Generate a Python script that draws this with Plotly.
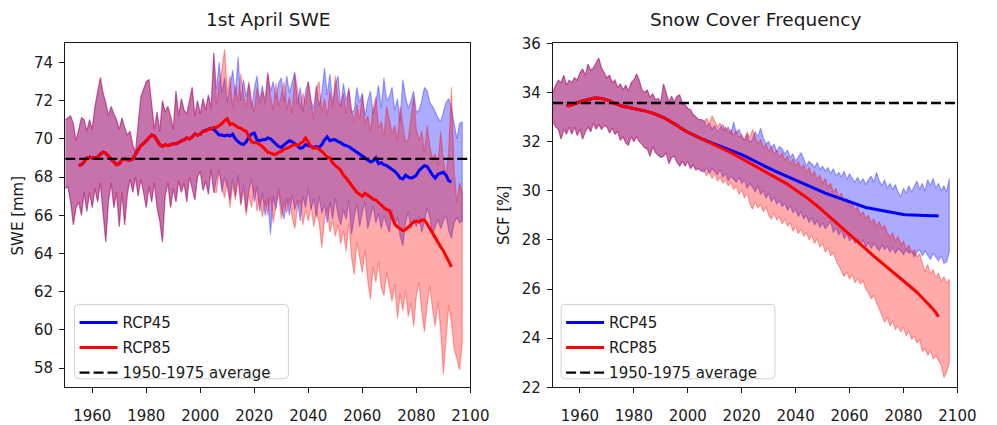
import plotly.graph_objects as go

# ---------------------------------------------------------------- years
YEARS_HIST = list(range(1950, 2006))       # historical ensemble
YEARS_RCP = list(range(2006, 2098))        # scenario ensembles
YEARS_MEAN_HIST = list(range(1955, 2001))  # running mean, shared part
YEARS_MEAN_RCP = list(range(2001, 2094))   # running mean, scenario part

# ---------------------------------------------------------------- 1st April SWE [mm]
swe_hist_hi = [71.0, 71.1, 71.2, 70.8, 69.9, 70.5, 71.1, 71.0, 70.4, 71.0,
               70.5, 71.7, 72.5, 73.2, 72.4, 71.9, 71.2, 71.7, 71.3, 71.0,
               70.5, 71.1, 70.6, 70.2, 70.4, 69.7, 69.3, 70.6, 72.2, 72.6,
               73.0, 73.1, 71.8, 70.5, 71.4, 70.4, 72.0, 71.4, 71.7, 71.2,
               70.5, 72.5, 71.2, 72.1, 71.5, 71.3, 72.0, 72.7, 71.2, 72.0,
               71.3, 72.1, 71.5, 72.3, 71.6, 74.5]
swe_hist_lo = [67.4, 67.5, 66.7, 65.5, 66.4, 66.7, 66.0, 67.2, 66.2, 67.2,
               66.4, 67.4, 66.7, 67.7, 66.0, 64.6, 66.7, 67.7, 66.4, 67.2,
               65.4, 67.2, 65.5, 67.1, 67.9, 67.2, 68.0, 67.0, 67.9, 67.2,
               66.4, 67.5, 66.7, 67.7, 66.4, 65.7, 64.6, 67.0, 67.7, 66.4,
               67.4, 66.7, 67.8, 67.2, 67.7, 66.7, 68.0, 67.4, 66.8, 68.0,
               68.3, 67.3, 67.8, 67.1, 68.4, 67.2]
swe_r45_hi = [72.6, 74.0, 72.4, 73.2, 71.9, 72.8, 73.6, 72.3, 74.3, 72.0,
              73.1, 72.2, 72.9, 71.6, 72.6, 73.3, 72.0, 72.8, 71.8, 73.4,
              72.5, 73.0, 72.1, 72.9, 73.2, 71.9, 73.3, 72.4, 72.9, 73.5,
              71.8, 72.7, 71.4, 72.5, 73.0, 72.0, 71.6, 72.8, 71.7, 72.4,
              73.7, 72.3, 73.4, 71.9, 72.8, 73.3, 71.7, 72.9, 72.0, 72.6,
              71.4, 71.5, 72.7, 71.9, 72.4, 71.2, 72.0, 72.5, 71.3, 71.9,
              72.8, 71.6, 73.2, 72.0, 72.2, 72.7, 71.5, 72.1, 70.9, 73.1,
              72.2, 71.6, 72.0, 72.5, 71.4, 71.5, 72.0, 72.7, 72.5, 71.9,
              71.7, 71.4, 71.1, 70.9, 71.4, 71.9, 72.1, 71.6, 70.8, 70.0,
              70.8, 70.9]
swe_r45_lo = [67.9, 68.4, 67.2, 68.0, 67.5, 66.8, 67.9, 67.0, 68.1, 66.6,
              67.6, 66.2, 67.3, 67.9, 66.7, 67.5, 66.2, 67.2, 66.0, 66.9,
              65.0, 67.0, 66.3, 67.4, 66.4, 65.8, 66.9, 66.0, 67.1, 66.3,
              66.8, 65.7, 67.0, 66.4, 67.4, 66.3, 66.9, 65.9, 67.0, 66.1,
              66.6, 65.6, 66.7, 65.8, 66.9, 66.0, 65.5, 66.3, 65.8, 66.8,
              65.0, 65.9, 66.6, 65.4, 66.2, 66.7, 65.3, 65.9, 66.5, 65.6,
              66.1, 65.3, 66.0, 65.5, 65.1, 66.3, 65.4, 65.9, 64.9, 64.4,
              65.6, 66.2, 65.3, 65.8, 65.4, 66.0, 65.1, 65.7, 66.4, 65.9,
              65.0, 65.4, 65.8, 65.3, 65.7, 66.0, 65.2, 64.8, 65.6, 65.9,
              65.6, 65.7]
swe_r85_hi = [71.8, 72.9, 73.6, 74.7, 72.4, 73.3, 71.6, 72.8, 71.9, 73.4,
              72.3, 71.7, 73.0, 72.0, 71.4, 72.7, 71.8, 72.5, 72.1, 73.5,
              72.2, 71.5, 72.9, 71.7, 72.3, 73.0, 71.5, 72.2, 71.3, 73.4,
              72.6, 71.6, 72.4, 71.8, 73.0, 71.9, 71.0, 72.6, 73.0, 71.4,
              72.1, 71.2, 72.5, 71.6, 73.3, 72.0, 71.7, 72.4, 71.3, 72.7,
              71.5, 70.9, 71.8, 71.0, 72.3, 70.8, 71.2, 70.4, 71.6, 72.2,
              70.6, 70.9, 70.1, 71.7, 70.9, 70.3, 70.7, 69.9, 71.7, 70.6,
              69.8, 70.0, 71.1, 72.2, 70.5, 69.9, 70.4, 69.3, 70.7, 69.6,
              69.0, 69.2, 68.6, 70.4, 68.9, 68.0, 69.4, 72.7, 68.3, 66.7,
              67.7, 67.2]
swe_r85_lo = [67.2, 68.3, 67.5, 66.9, 67.8, 66.4, 67.6, 66.8, 67.9, 66.5,
              67.3, 66.0, 67.1, 66.4, 67.5, 66.2, 66.9, 65.9, 66.8, 66.0,
              67.0, 65.6, 66.5, 67.1, 65.8, 66.7, 66.1, 66.9, 65.9, 65.3,
              66.4, 66.8, 65.5, 66.3, 65.7, 66.5, 65.4, 66.2, 65.6, 64.3,
              65.8, 66.4, 65.1, 65.7, 64.9, 65.5, 64.5, 65.2, 64.1, 65.6,
              63.8, 62.9, 64.6, 63.9, 63.0, 64.2, 62.6, 61.6, 63.3, 62.5,
              63.6, 62.2, 61.8, 63.0, 62.3, 61.5, 62.4, 60.6, 61.9, 61.0,
              62.1, 60.7, 61.4, 60.2, 61.8, 62.5, 61.0, 59.9, 61.3, 62.3,
              61.1, 60.2, 61.5, 60.0, 57.7, 59.5, 61.3, 60.4, 59.0, 58.5,
              57.9, 59.3]
swe_mean_hist = [68.6, 68.65, 68.8, 69.0, 69.05, 69.0, 69.0, 69.05, 69.2, 69.3,
                 69.25, 69.1, 68.9, 68.8, 68.65, 68.7, 68.9, 68.95, 68.9, 68.9,
                 68.95, 69.2, 69.4, 69.65, 69.75, 69.9, 70.1, 70.2, 70.15, 69.9,
                 69.7, 69.6, 69.7, 69.65, 69.7, 69.75, 69.75, 69.8, 69.9, 69.95,
                 70.05, 70.0, 70.1, 70.25, 70.2, 70.25]
swe_mean_r45 = [70.4, 70.45, 70.5, 70.55, 70.5, 70.35, 70.2, 70.2, 70.15, 70.2,
                70.15, 70.25, 70.0, 69.85, 69.75, 69.7, 69.85, 70.1, 70.25, 70.3,
                69.95, 69.9, 69.95, 69.95, 70.05, 70.0, 69.85, 69.75, 69.6, 69.55,
                69.7, 69.8, 69.9, 69.85, 69.75, 69.6, 69.5, 69.55, 69.7, 69.65,
                69.6, 69.55, 69.6, 69.55, 69.7, 69.95, 70.1, 69.9, 69.95, 69.95,
                69.85, 69.8, 69.7, 69.65, 69.6, 69.5, 69.4, 69.3, 69.2, 69.1,
                69.0, 68.9, 68.8, 68.85, 69.0, 68.7, 68.75, 68.65, 68.6, 68.5,
                68.4, 68.3, 68.15, 67.95, 67.9, 68.1, 68.0, 67.95, 68.0, 68.1,
                68.35, 68.5, 68.6, 68.55, 68.3, 68.1, 67.95, 68.15, 68.2, 68.25,
                68.1, 67.8, 67.75]
swe_mean_r85 = [70.4, 70.4, 70.5, 70.5, 70.6, 70.6, 70.7, 70.8, 70.95, 71.05,
                70.75, 70.8, 70.7, 70.6, 70.55, 70.45, 70.4, 70.1, 69.85, 69.8,
                69.8, 69.7, 69.6, 69.45, 69.3, 69.25, 69.2, 69.2, 69.3, 69.35,
                69.45, 69.5, 69.55, 69.65, 69.7, 69.65, 69.75, 69.85, 70.05, 69.8,
                69.6, 69.5, 69.55, 69.45, 69.35, 69.2, 69.05, 69.0, 68.75, 68.6,
                68.5, 68.35, 68.1, 67.95, 67.75, 67.55, 67.4, 67.2, 67.1, 67.0,
                67.15, 67.05, 66.95, 66.85, 66.8, 66.65, 66.55, 66.4, 66.3, 66.25,
                65.9, 65.55, 65.4, 65.3, 65.2, 65.25, 65.4, 65.55, 65.65, 65.7,
                65.65, 65.75, 65.75, 65.55, 65.3, 65.05, 64.85, 64.6, 64.35, 64.15,
                63.85, 63.6, 63.3]
swe_base = 68.95

# ---------------------------------------------------------------- snow cover frequency [%]
scf_hist_hi = [34.0, 34.3, 34.5, 34.4, 34.7, 34.3, 34.5, 34.4, 34.6, 34.5,
               34.8, 34.95, 34.7, 35.15, 34.9, 35.0, 35.2, 35.4, 35.0, 34.8,
               34.6, 34.7, 34.4, 34.5, 34.2, 34.35, 34.1, 34.3, 34.05, 34.4,
               34.5, 34.75, 34.5, 34.1, 34.0, 34.1, 33.8, 33.95, 33.7, 33.75,
               33.6, 34.35, 34.0, 33.6, 33.85, 33.6, 33.85, 33.9, 33.55, 33.5,
               33.35, 33.3, 33.1, 33.0, 32.9, 32.9]
scf_hist_lo = [32.8, 32.6, 32.5, 32.1, 32.5, 32.3, 32.6, 32.3, 32.6, 32.25,
               32.5, 32.1, 32.4, 32.6, 32.4, 32.75, 32.5, 32.7, 32.5, 32.65,
               32.6, 32.35, 32.55, 32.3, 32.4, 32.05, 32.2, 31.95, 31.85, 32.2,
               32.0, 32.2, 32.0, 31.9, 31.75, 31.7, 31.4, 31.8, 31.55, 31.45,
               31.35, 31.4, 31.55, 31.1, 31.35, 31.4, 31.15, 31.0, 31.2, 31.0,
               31.2, 30.9, 31.05, 30.85, 30.9, 30.8]
scf_r45_hi = [32.85, 32.6, 32.75, 32.5, 32.65, 32.4, 32.55, 32.7, 32.45, 32.6,
              32.3, 32.8, 32.35, 32.5, 32.2, 32.05, 32.3, 31.95, 32.1, 32.4,
              32.2, 32.55, 32.15, 31.9, 32.0, 31.75, 31.9, 31.6, 31.8, 31.7,
              31.5, 31.65, 31.35, 31.5, 31.2, 31.4, 31.55, 31.3, 31.0, 31.2,
              31.1, 30.95, 31.15, 30.85, 31.0, 30.8, 30.95, 30.7, 30.9, 30.6,
              30.75, 30.55, 30.8, 30.45, 30.7, 30.5, 30.35, 30.55, 30.3, 30.5,
              30.25, 30.45, 30.6, 30.35, 30.75, 30.4, 30.2, 30.45, 30.1, 30.3,
              30.05, 30.25, 29.95, 29.75, 30.1, 29.9, 30.2, 29.95, 30.15, 30.4,
              30.05, 30.3, 30.0, 30.45, 30.2, 30.5, 30.1, 30.3, 30.0, 30.2,
              29.95, 30.5]
scf_r45_lo = [30.75, 30.95, 30.7, 30.9, 30.8, 30.65, 30.85, 30.55, 30.7, 30.4,
              30.6, 30.5, 30.35, 30.55, 30.3, 30.45, 30.1, 30.3, 30.15, 29.95,
              30.2, 29.85, 30.0, 29.7, 29.9, 29.55, 29.75, 29.45, 29.6, 29.35,
              29.5, 29.2, 29.4, 29.1, 29.25, 28.95, 29.15, 28.85, 29.0, 28.7,
              28.9, 28.6, 28.8, 28.5, 28.7, 28.45, 28.6, 28.75, 28.3, 28.5,
              28.2, 28.4, 28.05, 28.25, 27.95, 28.15, 27.85, 28.05, 27.8, 28.0,
              27.7, 27.9, 27.65, 27.85, 27.7, 27.55, 27.8, 27.6, 27.75, 27.5,
              27.7, 27.45, 27.65, 27.55, 27.4, 27.6, 27.45, 27.55, 27.3, 27.5,
              27.6, 27.35, 27.55, 27.4, 27.2, 27.45, 27.3, 27.15, 27.35, 27.05,
              27.1, 27.5]
scf_r85_hi = [32.8, 32.95, 32.7, 33.05, 32.85, 32.6, 32.75, 32.45, 32.6, 32.35,
              32.5, 32.25, 32.45, 32.15, 32.3, 32.05, 32.4, 32.15, 32.5, 32.2,
              31.9, 32.1, 31.75, 31.9, 31.6, 31.8, 31.5, 31.65, 31.35, 31.55,
              31.25, 31.4, 31.1, 31.3, 31.0, 31.2, 30.9, 31.05, 30.75, 30.95,
              30.6, 30.8, 30.45, 30.65, 30.3, 30.5, 30.15, 30.3, 29.95, 30.1,
              29.75, 29.9, 29.55, 29.7, 29.35, 29.5, 29.2, 29.35, 29.0, 29.15,
              28.85, 29.0, 28.7, 28.85, 28.55, 28.75, 28.45, 28.6, 28.3, 28.1,
              28.3, 27.95, 28.15, 27.8, 27.95, 27.6, 27.8, 27.45, 27.6, 27.3,
              27.45, 27.05, 26.7, 27.0, 26.6, 26.8, 26.45, 26.65, 26.3, 26.5,
              26.25, 26.4]
scf_r85_lo = [30.85, 30.6, 30.8, 30.5, 30.7, 30.4, 30.55, 30.3, 30.45, 30.2,
              30.35, 30.05, 30.2, 29.85, 30.05, 29.7, 29.9, 29.5, 29.25, 29.55,
              29.3, 29.45, 29.15, 29.35, 29.0, 28.85, 29.1, 28.8, 28.95, 28.65,
              28.85, 28.55, 28.7, 28.35, 28.55, 28.25, 28.45, 28.15, 28.3, 28.0,
              28.2, 27.85, 28.05, 27.7, 27.85, 27.5, 27.7, 27.35, 27.5, 27.15,
              26.95, 26.75, 26.5, 26.7, 26.4, 26.6, 26.25, 26.45, 26.2, 26.35,
              26.0, 25.85, 25.6, 25.75, 25.45, 25.2, 24.95, 24.65, 24.85, 24.5,
              24.7, 24.35, 24.5, 24.25, 24.45, 24.1, 24.3, 23.95, 24.1, 23.8,
              23.95, 23.45, 23.6, 23.3, 23.5, 23.15, 23.3, 23.1, 22.9, 22.4,
              22.6, 23.0]
scf_mean_hist = [33.47, 33.46, 33.5, 33.55, 33.6, 33.62, 33.65, 33.68, 33.72, 33.74,
                 33.76, 33.77, 33.77, 33.75, 33.73, 33.7, 33.66, 33.6, 33.55, 33.5,
                 33.45, 33.43, 33.42, 33.4, 33.38, 33.35, 33.33, 33.3, 33.28, 33.25,
                 33.22, 33.2, 33.16, 33.12, 33.08, 33.03, 32.98, 32.92, 32.86, 32.8,
                 32.74, 32.66, 32.58, 32.5, 32.44, 32.38]
scf_mean_r45 = [32.32, 32.27, 32.22, 32.17, 32.12, 32.07, 32.02, 31.98, 31.94, 31.9,
                31.86, 31.82, 31.78, 31.74, 31.7, 31.66, 31.62, 31.57, 31.52, 31.47,
                31.42, 31.37, 31.32, 31.27, 31.21, 31.15, 31.09, 31.03, 30.97, 30.92,
                30.87, 30.82, 30.77, 30.72, 30.67, 30.62, 30.57, 30.52, 30.47, 30.42,
                30.37, 30.32, 30.27, 30.22, 30.17, 30.12, 30.07, 30.02, 29.98, 29.94,
                29.9, 29.86, 29.82, 29.78, 29.74, 29.7, 29.66, 29.62, 29.58, 29.53,
                29.49, 29.45, 29.41, 29.38, 29.35, 29.32, 29.3, 29.28, 29.26, 29.24,
                29.22, 29.2, 29.17, 29.14, 29.11, 29.09, 29.07, 29.05, 29.04, 29.03,
                29.02, 29.01, 29.0, 29.0, 29.01, 29.0, 28.99, 29.0, 28.99, 28.98,
                28.99, 28.98, 28.97]
scf_mean_r85 = [32.33, 32.28, 32.23, 32.18, 32.13, 32.08, 32.03, 31.98, 31.93, 31.88,
                31.83, 31.78, 31.73, 31.67, 31.61, 31.55, 31.49, 31.43, 31.37, 31.31,
                31.25, 31.2, 31.14, 31.08, 31.02, 30.96, 30.9, 30.84, 30.78, 30.72,
                30.66, 30.6, 30.54, 30.47, 30.4, 30.33, 30.26, 30.19, 30.12, 30.05,
                29.97, 29.89, 29.81, 29.73, 29.65, 29.56, 29.47, 29.38, 29.29, 29.2,
                29.1, 29.0, 28.9, 28.8, 28.7, 28.6, 28.5, 28.4, 28.3, 28.2,
                28.1, 28.0, 27.9, 27.8, 27.7, 27.61, 27.52, 27.43, 27.34, 27.25,
                27.16, 27.07, 26.98, 26.89, 26.8, 26.71, 26.62, 26.53, 26.44, 26.35,
                26.26, 26.17, 26.07, 25.97, 25.87, 25.76, 25.65, 25.54, 25.43, 25.31,
                25.18, 25.04, 24.87]
scf_base = 33.57

# ---------------------------------------------------------------- labels
TITLES = ["1st April SWE", "Snow Cover Frequency"]
YLABELS = ["SWE [mm]", "SCF [%]"]
SCENARIOS = ["RCP45", "RCP85"]
BASE_LABEL = "1950-1975 average"
X_TICKS = [1960, 1980, 2000, 2020, 2040, 2060, 2080, 2100]

for arr in (swe_hist_hi, swe_hist_lo, scf_hist_hi, scf_hist_lo):
    assert len(arr) == len(YEARS_HIST)
for arr in (swe_r45_hi, swe_r45_lo, swe_r85_hi, swe_r85_lo,
            scf_r45_hi, scf_r45_lo, scf_r85_hi, scf_r85_lo):
    assert len(arr) == len(YEARS_RCP)
for arr in (swe_mean_hist, scf_mean_hist):
    assert len(arr) == len(YEARS_MEAN_HIST)
for arr in (swe_mean_r45, swe_mean_r85, scf_mean_r45, scf_mean_r85):
    assert len(arr) == len(YEARS_MEAN_RCP)

# ---------------------------------------------------------------- styling
FONT = "DejaVu Sans"
TXT = "#1a1a1a"
LINE_COL = {"RCP45": "rgb(0,0,255)", "RCP85": "rgb(255,0,0)"}
FILL_COL = {"RCP45": "rgba(0,0,255,0.33)", "RCP85": "rgba(255,0,0,0.33)"}

W, H = 997, 425
PLOT_TOP, PLOT_BOTTOM = 36, 397
X_DOMAINS = [(66.5 / W, 479.5 / W), (563.7 / W, 976.0 / W)]
Y_DOMAIN = ((H - PLOT_BOTTOM) / H, (H - PLOT_TOP) / H)
Y_RANGES = [(57, 75), (22, 36)]
Y_TICKS = [list(range(58, 75, 2)), list(range(22, 37, 2))]
YLABEL_X = [18.5 / W, 514.5 / W]
# legend frames in pixels: left, right, top, bottom
LEGEND_BOX = [(76, 294, 310, 388), (572, 790, 310, 388)]


def px(xp, yp):
    """Pixel position -> paper coordinates."""
    return xp / W, (H - yp) / H


def rounded_box(left, right, top, bottom, r=4):
    def p(xp, yp):
        x, y = px(xp, yp)
        return f"{x:.5f},{y:.5f}"
    return (f"M{p(left + r, top)} L{p(right - r, top)} Q{p(right, top)} {p(right, top + r)} "
            f"L{p(right, bottom - r)} Q{p(right, bottom)} {p(right - r, bottom)} "
            f"L{p(left + r, bottom)} Q{p(left, bottom)} {p(left, bottom - r)} "
            f"L{p(left, top + r)} Q{p(left, top)} {p(left + r, top)} Z")


panels = [
    {
        "hist": (swe_hist_lo, swe_hist_hi),
        "RCP45": (swe_r45_lo, swe_r45_hi, swe_mean_r45),
        "RCP85": (swe_r85_lo, swe_r85_hi, swe_mean_r85),
        "mean_hist": swe_mean_hist,
        "base": swe_base,
    },
    {
        "hist": (scf_hist_lo, scf_hist_hi),
        "RCP45": (scf_r45_lo, scf_r45_hi, scf_mean_r45),
        "RCP85": (scf_r85_lo, scf_r85_hi, scf_mean_r85),
        "mean_hist": scf_mean_hist,
        "base": scf_base,
    },
]

fig = go.Figure()

for i, p in enumerate(panels):
    xa = "x" if i == 0 else "x2"
    ya = "y" if i == 0 else "y2"
    leg = "legend" if i == 0 else "legend2"
    hist_lo, hist_hi = p["hist"]

    # ensemble spread (historical run continued by each scenario)
    for sc in SCENARIOS:
        lo, hi, _ = p[sc]
        xs = YEARS_HIST + YEARS_RCP
        upper = hist_hi + hi
        lower = hist_lo + lo
        fig.add_trace(go.Scatter(
            x=xs + xs[::-1], y=upper + lower[::-1],
            fill="toself", fillcolor=FILL_COL[sc],
            line=dict(color=FILL_COL[sc], width=1.2),
            mode="lines", hoverinfo="skip", showlegend=False,
            xaxis=xa, yaxis=ya,
        ))

    # running ensemble means
    for sc in SCENARIOS:
        _, _, mean = p[sc]
        fig.add_trace(go.Scatter(
            x=YEARS_MEAN_HIST + YEARS_MEAN_RCP, y=p["mean_hist"] + mean,
            mode="lines", name=sc, legendgroup=f"{sc}{i}",
            line=dict(color=LINE_COL[sc], width=3),
            xaxis=xa, yaxis=ya, legend=leg,
        ))

    # reference period average
    fig.add_trace(go.Scatter(
        x=[1950, 2100], y=[p["base"], p["base"]],
        mode="lines", name=BASE_LABEL, legendgroup=f"base{i}",
        line=dict(color="black", width=2.3, dash="10px,4px"),
        xaxis=xa, yaxis=ya, legend=leg,
    ))

axis_common = dict(
    showline=True, linecolor=TXT, linewidth=1.2, mirror=True,
    ticks="outside", ticklen=5, tickwidth=1.2, tickcolor=TXT,
    showgrid=False, zeroline=False,
    tickfont=dict(family=FONT, size=15, color=TXT),
)

layout = dict(
    width=W, height=H,
    margin=dict(l=0, r=0, t=0, b=0),
    paper_bgcolor="white", plot_bgcolor="white",
    font=dict(family=FONT, size=15, color=TXT),
    annotations=[], shapes=[],
)

for i in range(2):
    sfx = "" if i == 0 else "2"
    layout["xaxis" + sfx] = dict(
        axis_common, domain=list(X_DOMAINS[i]), range=[1950, 2100],
        tickvals=X_TICKS, anchor="y" + sfx, ticklabelstandoff=10,
    )
    layout["yaxis" + sfx] = dict(
        axis_common, domain=list(Y_DOMAIN), range=list(Y_RANGES[i]),
        tickvals=Y_TICKS[i], anchor="x" + sfx, ticklabelstandoff=3,
    )
    left, right, top, bottom = LEGEND_BOX[i]
    layout["shapes"].append(dict(
        type="path", xref="paper", yref="paper",
        path=rounded_box(left, right, top, bottom),
        fillcolor="rgba(255,255,255,0.8)", line=dict(color="#d0d0d0", width=1),
        layer="above",
    ))
    lx, ly = px(left, top + 2)
    layout["legend" if i == 0 else "legend2"] = dict(
        x=lx, y=ly, xanchor="left", yanchor="top",
        bgcolor="rgba(0,0,0,0)", borderwidth=0,
        font=dict(family=FONT, size=15, color=TXT),
        itemwidth=38, tracegroupgap=2.5, traceorder="grouped",
    )
    layout["annotations"].append(dict(
        text=TITLES[i], xref="x" + sfx + " domain", yref="y" + sfx + " domain",
        x=0.5, y=1, xanchor="center", yanchor="bottom", yshift=11,
        showarrow=False, font=dict(family=FONT, size=18.5, color=TXT),
    ))
    layout["annotations"].append(dict(
        text=YLABELS[i], xref="paper", yref="paper",
        x=YLABEL_X[i], y=sum(Y_DOMAIN) / 2, xanchor="center", yanchor="middle",
        textangle=-90, showarrow=False,
        font=dict(family=FONT, size=15, color=TXT),
    ))

fig.update_layout(**layout)
fig.write_html("out.html")
